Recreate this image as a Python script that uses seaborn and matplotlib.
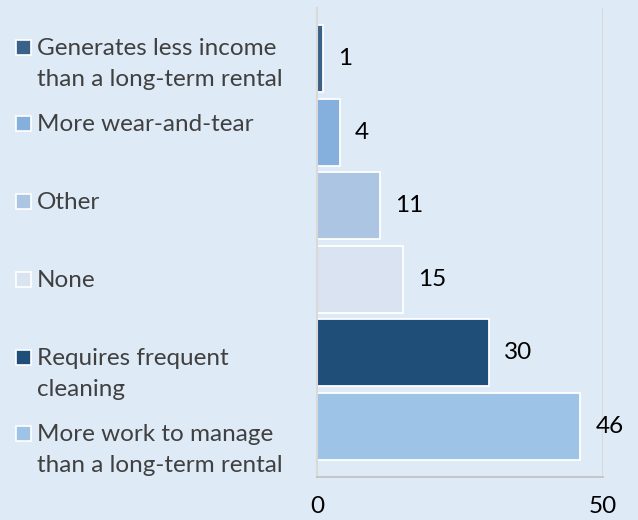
import matplotlib
matplotlib.use('Agg')
import matplotlib.pyplot as plt
from matplotlib.patches import Rectangle
import pandas as pd
import seaborn as sns

categories = ['Generates less income than a long-term rental', 'More wear-and-tear', 'Other',
              'None', 'Requires frequent cleaning', 'More work to manage than a long-term rental']
legend_labels = [['Generates less income', 'than a long-term rental'], ['More wear-and-tear'], ['Other'],
                 ['None'], ['Requires frequent', 'cleaning'], ['More work to manage', 'than a long-term rental']]
values = [1, 4, 11, 15, 30, 46]
colors = ['#3A6189', '#85AFDD', '#ABC5E3', '#DAE3F1', '#1F4E79', '#9DC3E6']
x_ticks = [0, 50]

BG = '#DEEAF6'
FS = 17.5
sns.set_theme(style='white')
plt.rcParams['font.family'] = ['Lato', 'DejaVu Sans']

df = pd.DataFrame({'reason': categories, 'count': values})

fig = plt.figure(figsize=(6.38, 5.20), dpi=100, facecolor=BG)
ax = fig.add_axes([317/638, 43/520, 286/638, 469/520])
ax.set_facecolor(BG)

sns.barplot(data=df, y='reason', x='count', hue='reason', palette=colors, order=categories,
            hue_order=categories, dodge=False, legend=False, width=0.91, saturation=1,
            edgecolor='white', linewidth=1.3, ax=ax)

for c in ax.containers:
    ax.bar_label(c, padding=11, fontsize=FS, color='black')

ax.set_xlim(0, 50)
ax.set_ylim(5.69, -0.69)
ax.set_xticks(x_ticks)
ax.set_xticklabels([str(t) for t in x_ticks], fontsize=FS, color='black')
ax.tick_params(axis='x', length=0, pad=14)
ax.set_yticks([])
ax.set_xlabel('')
ax.set_ylabel('')
ax.axvline(50, color='#D9D9D9', lw=1.5, zorder=0)
for s in ['top', 'right']:
    ax.spines[s].set_visible(False)
ax.spines['left'].set_color('#D9D9D9')
ax.spines['left'].set_linewidth(1.5)
ax.spines['bottom'].set_color('#BFBFBF')
ax.spines['bottom'].set_linewidth(1.2)

# legend laid out by hand so the swatch sits on the first line
marker_y = [47, 123, 201, 279, 357, 433]
for lines, col, my in zip(legend_labels, colors, marker_y):
    fig.patches.append(Rectangle((16/638, 1 - (my + 7.5)/520), 15/638, 15/520,
                                 transform=fig.transFigure, facecolor=col,
                                 edgecolor='white', linewidth=1.2))
    for i, line in enumerate(lines):
        fig.text(37/638, 1 - (my + 8 + 31*i)/520, line, fontsize=FS, color='#404040',
                 va='baseline', ha='left')

fig.savefig('out.png', dpi=100, facecolor=BG)
